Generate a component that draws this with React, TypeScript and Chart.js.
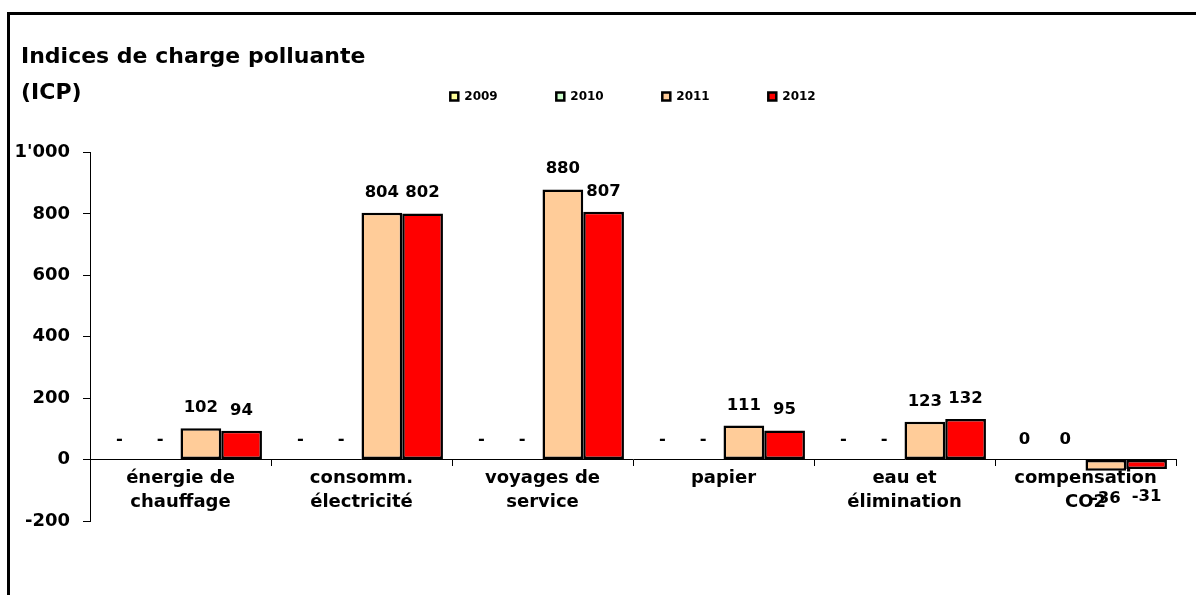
import React, { useEffect, useRef } from 'react';
import { Chart, registerables } from 'chart.js';

Chart.register(...registerables);

const categories: string[][] = [
  ['énergie de', 'chauffage'],
  ['consomm.', 'électricité'],
  ['voyages de', 'service'],
  ['papier'],
  ['eau et', 'élimination'],
  ['compensation', 'CO2'],
];
const seriesNames = ['2009', '2010', '2011', '2012'];
const values2009 = [0, 0, 0, 0, 0, 0.3];
const values2010 = [0, 0, 0, 0, 0, 0.3];
const values2011 = [102, 804, 880, 111, 123, -36];
const values2012 = [94, 802, 807, 95, 132, -31];
const seriesColors = ['#FFFF99', '#CCFFCC', '#FFCC99', '#FF0000'];
const yMin = -200;
const yMax = 1000;
const yStep = 200;
const titleLines = ['Indices de charge polluante', '(ICP)'];

const FONT = "'DejaVu Sans'";

function fmt(n: number): string {
  const sign = n < 0 ? '-' : '';
  const s = String(Math.abs(Math.round(n)));
  return sign + s.replace(/\B(?=(\d{3})+(?!\d))/g, "'");
}

const valueLabels = {
  id: 'valueLabels',
  afterDatasetsDraw(chart: any) {
    const ctx = chart.ctx;
    ctx.save();
    ctx.font = `bold 16.5px ${FONT}`;
    ctx.fillStyle = '#000';
    ctx.textAlign = 'center';
    ctx.textBaseline = 'alphabetic';
    chart.data.datasets.forEach((ds: any, i: number) => {
      const meta = chart.getDatasetMeta(i);
      meta.data.forEach((el: any, j: number) => {
        const v = ds.data[j];
        const text = v === 0 ? '-' : fmt(v);
        const y = v >= 0 ? el.y - 16 : el.y + 32;
        ctx.fillText(text, el.x, y);
      });
    });
    ctx.restore();
  },
};

export default function App() {
  const canvasRef = useRef<HTMLCanvasElement | null>(null);

  useEffect(() => {
    if (!canvasRef.current) return;
    const allValues = [values2009, values2010, values2011, values2012];
    const chart = new Chart(canvasRef.current, {
      type: 'bar',
      data: {
        labels: categories as any,
        datasets: seriesNames.map((name, i) => ({
          label: name,
          data: allValues[i],
          backgroundColor: seriesColors[i],
          borderColor: '#000',
          borderWidth: 2.5,
          borderSkipped: false,
          barPercentage: 1,
          categoryPercentage: 0.9,
        })),
      },
      options: {
        responsive: false,
        animation: false,
        devicePixelRatio: 1,
        layout: { padding: { left: 8, right: 20, top: 32, bottom: 74 } },
        plugins: {
          legend: {
            display: true,
            position: 'top',
            fullSize: false,
            align: 'center',
            labels: {
              boxWidth: 8,
              boxHeight: 8,
              padding: 58.6,
              color: '#000',
              font: { family: FONT, weight: 'bold', size: 12 },
            },
          },
          tooltip: { enabled: false },
          title: { display: false },
        },
        scales: {
          x: {
            type: 'category',
            position: { y: 0 } as any,
            grid: {
              display: true,
              drawOnChartArea: false,
              drawTicks: true,
              tickLength: 6,
              color: '#000',
              offset: true,
            },
            border: { display: true, color: '#000', width: 1 },
            ticks: {
              color: '#000',
              font: { family: FONT, weight: 'bold', size: 18, lineHeight: 24 / 18 },
              padding: 1,
              maxRotation: 0,
              minRotation: 0,
              autoSkip: false,
            },
          },
          x2: {
            type: 'category',
            axis: 'x',
            position: 'top',
            display: true,
            grid: { display: false },
            border: { display: false },
            ticks: { display: false },
            afterFit: (s: any) => {
              s.height = 40;
            },
          },
          y: {
            type: 'linear',
            position: 'left',
            min: yMin,
            max: yMax,
            ticks: {
              stepSize: yStep,
              callback: (v: any) => fmt(Number(v)),
              color: '#000',
              font: { family: FONT, weight: 'bold', size: 18 },
              padding: 13,
            },
            grid: {
              drawOnChartArea: false,
              drawTicks: true,
              tickLength: 7,
              color: '#000',
            },
            border: { display: true, color: '#000', width: 1 },
            afterFit: (s: any) => {
              s.width = 82;
            },
          },
        } as any,
      },
      plugins: [valueLabels],
    } as any);
    return () => chart.destroy();
  }, []);

  return (
    <div
      style={{
        position: 'fixed',
        left: 0,
        top: 0,
        width: 1196,
        height: 595,
        overflow: 'hidden',
        background: '#fff',
      }}
    >
      <div
        style={{
          position: 'absolute',
          left: 7,
          top: 12,
          width: 2000,
          height: 2000,
          borderLeft: '3px solid #000',
          borderTop: '3px solid #000',
        }}
      />
      <canvas
        ref={canvasRef}
        width={1196}
        height={595}
        style={{ position: 'absolute', left: 0, top: 0, width: 1196, height: 595 }}
      />
      {titleLines.map((t, i) => (
        <div
          key={i}
          style={{
            position: 'absolute',
            left: 21,
            top: i === 0 ? 44.7 : 81.4,
            font: `bold 22px ${FONT}`,
            lineHeight: '22px',
            whiteSpace: 'nowrap',
            color: '#000',
          }}
        >
          {t}
        </div>
      ))}
    </div>
  );
}
